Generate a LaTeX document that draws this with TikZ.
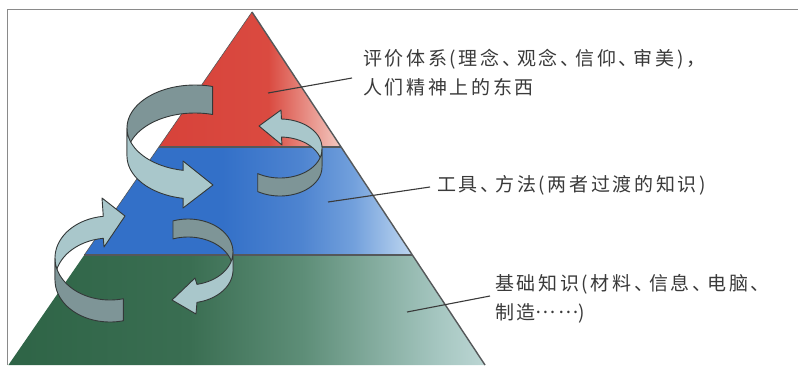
\documentclass[tikz,border=0pt]{standalone}
\usepackage{fontspec}
\newfontfamily\cjk[LetterSpace=14]{Noto Sans CJK SC}
\newcommand\dun{、\kern-4pt}
\definecolor{ribdark}{HTML}{7E9597}
\definecolor{riblight}{HTML}{A9C7CB}
\definecolor{outl}{HTML}{333838}
\definecolor{redA}{HTML}{D7423A}
\definecolor{redB}{HTML}{DA4A40}
\definecolor{redC}{HTML}{F3CAC2}
\definecolor{blueA}{HTML}{3370C8}
\definecolor{blueM}{HTML}{4E84D0}
\definecolor{blueB}{HTML}{72A0DC}
\definecolor{blueC}{HTML}{BED6F0}
\definecolor{greenA}{HTML}{2E6446}
\definecolor{greenB}{HTML}{3A6E52}
\definecolor{greenM}{HTML}{5E8E78}
\definecolor{greenC}{HTML}{A5C6C0}
\definecolor{greenD}{HTML}{BCD6D4}
\definecolor{sepgray}{HTML}{55585A}
\definecolor{textgray}{HTML}{3A3A3A}
\definecolor{framegray}{HTML}{8A8A8A}
\pgfdeclarehorizontalshading{redsh}{100bp}{color(0bp)=(redA); color(25bp)=(redA); color(55bp)=(redB); color(75bp)=(redC); color(100bp)=(redC)}
\pgfdeclarehorizontalshading{bluesh}{100bp}{color(0bp)=(blueA); color(25bp)=(blueA); color(46bp)=(blueA); color(58bp)=(blueM); color(66bp)=(blueB); color(75bp)=(blueC); color(100bp)=(blueC)}
\pgfdeclarehorizontalshading{greensh}{100bp}{color(0bp)=(greenA); color(25bp)=(greenA); color(44bp)=(greenB); color(56bp)=(greenM); color(70bp)=(greenC); color(75bp)=(greenD); color(100bp)=(greenD)}
\begin{document}
\begin{tikzpicture}[x=1pt,y=-1pt,
  ribbon/.style={draw=outl, line width=0.9pt, line join=round},
  sep/.style={draw=sepgray, line width=1.8pt},
  edgeline/.style={draw=sepgray, line width=1.4pt},
  thinedge/.style={draw=sepgray, line width=0.6pt},
  leader/.style={draw=textgray, line width=1.1pt},
  lbl/.style={font=\cjk\fontsize{19}{29}\selectfont, text=textgray, align=left, inner sep=0pt, anchor=west}]
\useasboundingbox (0,0) rectangle (798,365);
\fill[white] (0,0) rectangle (798,365);
\draw[framegray, line width=0.8pt] (7,365) -- (7,9) -- (798,9);
% pyramid corners
\coordinate (apex) at (252,12);
\coordinate (rl) at (158.8,147);
\coordinate (rr) at (341.1,147);
\coordinate (bl) at (84.3,255);
\coordinate (br) at (412.4,255);
\coordinate (gl) at (8.4,365);
\coordinate (gr) at (485,365);
% layers
\shade[shading=redsh] (apex) -- (rl) -- (rr) -- cycle;
\shade[shading=bluesh] (rl) -- (bl) -- (br) -- (rr) -- cycle;
\shade[shading=greensh] (bl) -- (gl) -- (gr) -- (br) -- cycle;
\draw[sep] (rl) -- (rr);
\draw[sep] (bl) -- (br);
\draw[edgeline] (apex) -- (gr);
\draw[thinedge] (apex) -- (bl);
% arrow 1 (upper left)
\filldraw[ribbon, fill=ribdark]
  plot[domain=285:180, samples=30, variable=\t] ({195+68*cos(\t)},{128+43*sin(\t)})
  -- plot[domain=180:285, samples=30, variable=\t] ({195+68*cos(\t)},{156+43*sin(\t)}) -- cycle;
\coordinate (a1t) at (183,161);
\coordinate (a1p) at (213,185);
\coordinate (a1b) at (183,208);
\filldraw[ribbon, fill=riblight]
  plot[domain=180:100, samples=30, variable=\t] ({195+68*cos(\t)},{128+43*sin(\t)})
  -- (a1t) -- (a1p) -- (a1b)
  -- plot[domain=100:180, samples=30, variable=\t] ({195+68*cos(\t)},{156+43*sin(\t)}) -- cycle;
% arrow 2 (upper right)
\coordinate (a2t) at (281,110);
\coordinate (a2p) at (259,126);
\coordinate (a2b) at (282,145);
\filldraw[ribbon, fill=riblight]
  plot[domain=360:272, samples=30, variable=\t] ({280+42*cos(\t)},{148+29*sin(\t)})
  -- (a2t) -- (a2p) -- (a2b)
  -- plot[domain=272:360, samples=30, variable=\t] ({280+42*cos(\t)},{166+29*sin(\t)}) -- cycle;
\filldraw[ribbon, fill=ribdark]
  plot[domain=122:0, samples=30, variable=\t] ({280+42*cos(\t)},{149+29*sin(\t)})
  -- plot[domain=0:122, samples=30, variable=\t] ({280+42*cos(\t)},{167+29*sin(\t)}) -- cycle;
% arrow 3 (lower left)
\coordinate (a3t) at (102,198);
\coordinate (a3p) at (125,216);
\coordinate (a3b) at (104,247);
\filldraw[ribbon, fill=riblight]
  plot[domain=180:263, samples=30, variable=\t] ({110+55*cos(\t)},{258+42*sin(\t)})
  -- (a3t) -- (a3p) -- (a3b)
  -- plot[domain=263:180, samples=30, variable=\t] ({110+55*cos(\t)},{280+42*sin(\t)}) -- cycle;
\filldraw[ribbon, fill=ribdark]
  plot[domain=180:76, samples=30, variable=\t] ({110+55*cos(\t)},{258+42*sin(\t)})
  -- plot[domain=76:180, samples=30, variable=\t] ({110+55*cos(\t)},{280+42*sin(\t)}) -- cycle;
% arrow 4 (lower right)
\filldraw[ribbon, fill=ribdark]
  plot[domain=250.5:360, samples=30, variable=\t] ({188+45*cos(\t)},{252+33*sin(\t)})
  -- plot[domain=360:250.5, samples=30, variable=\t] ({188+45*cos(\t)},{270+33*sin(\t)}) -- cycle;
\coordinate (a4t) at (195,278);
\coordinate (a4p) at (172,300);
\coordinate (a4b) at (196,314);
\filldraw[ribbon, fill=riblight]
  plot[domain=0:78.5, samples=30, variable=\t] ({188+45*cos(\t)},{252+33*sin(\t)})
  -- (a4t) -- (a4p) -- (a4b)
  -- plot[domain=78.5:0, samples=30, variable=\t] ({188+45*cos(\t)},{270+33*sin(\t)}) -- cycle;
% labels
\node[lbl] (t1) at (363,73) {评价体系(理念\dun 观念\dun 信仰\dun 审美)，\\人们精神上的东西};
\node[lbl] (t2) at (437,185) {工具\dun 方法(两者过渡的知识)};
\node[lbl] (t3) at (495,299) {基础知识(材料\dun 信息\dun 电脑\dun\\制造\raisebox{6.5pt}{……})};
\coordinate (p1) at (268,93);
\coordinate (q1) at (352,78);
\coordinate (p2) at (328,202);
\coordinate (q2) at (430,187);
\coordinate (p3) at (407,312);
\coordinate (q3) at (490,296);
\draw[leader] (p1) -- (q1);
\draw[leader] (p2) -- (q2);
\draw[leader] (p3) -- (q3);
\end{tikzpicture}
\end{document}
